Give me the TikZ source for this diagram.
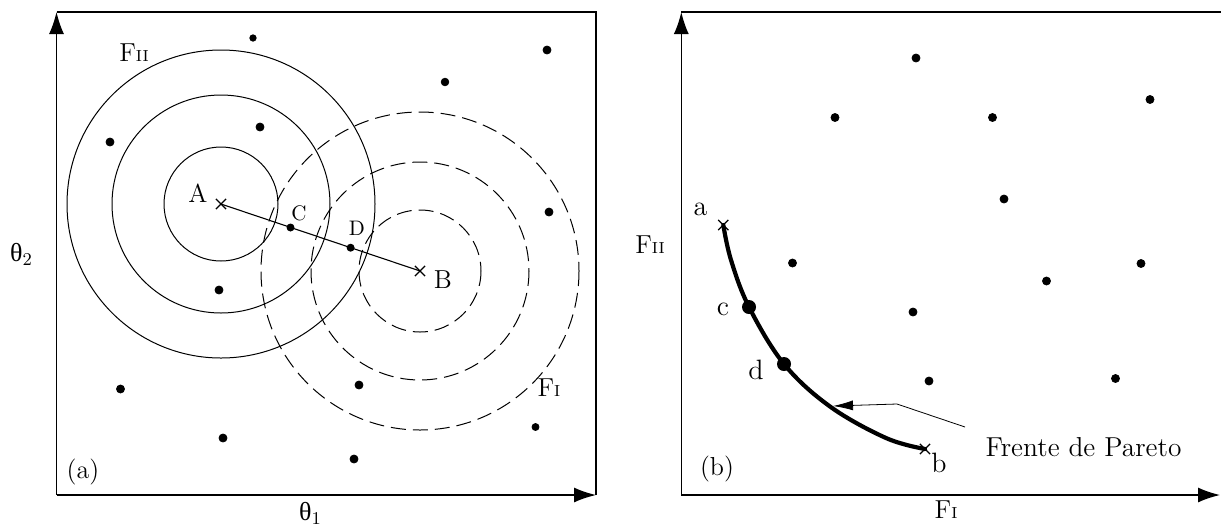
\documentclass[tikz,border=0pt]{standalone}
\usepackage{fontspec}
\newfontfamily\grk{Liberation Serif}
\usetikzlibrary{arrows.meta,shapes.misc}
\tikzset{
  eixo/.style={line width=0.65pt, -{Latex[length=11pt,width=7.5pt]}},
  moldura/.style={line width=0.65pt},
  nivel/.style={line width=0.5pt},
  niveltrac/.style={line width=0.5pt, dash pattern=on 7.5pt off 3.5pt},
  marca/.style={cross out, draw, line width=0.6pt, minimum size=4.5pt, inner sep=0pt},
  ponto/.style={circle, fill, inner sep=0pt, minimum size=4pt},
  pontog/.style={circle, fill, inner sep=0pt, minimum size=7pt},
  frente/.style={line width=2.1pt, line cap=round},
  seta/.style={line width=0.4pt, -{Latex[length=10pt,width=5pt]}},
  rot/.style={inner sep=0pt, font=\fontsize{13}{15}\selectfont},
  rotp/.style={inner sep=0pt, font=\fontsize{10.5}{12}\selectfont},
  rotm/.style={inner sep=0pt, font=\fontsize{14}{16}\selectfont},
}
\newcommand{\Fsub}[1]{F{\footnotesize #1}}
\newcommand{\tsub}[1]{{\grk θ}\raisebox{-0.35ex}{\small #1}}
\begin{document}
\begin{tikzpicture}[x=0.5pt, y=-0.5pt]
\useasboundingbox (0,0) rectangle (1221,526);

% (a) espaco dos parametros
\coordinate (oa) at (56.5,495);
\draw[moldura] (56.5,12) -- (596,12) -- (596,495);
\draw[eixo] (oa) -- (56.5,12);
\draw[eixo] (oa) -- (596,495);
\node[rot] (t1) at (310,513) {\tsub{1}};
\node[rot] (t2) at (21,254) {\tsub{2}};

\node[marca] (A) at (221,204) {};
\node[marca] (B) at (420,271) {};
\draw[nivel] (A.center) circle (57);
\draw[nivel] (A.center) circle (109);
\draw[nivel] (A.center) circle (154);
\draw[niveltrac] (B.center) circle (61);
\draw[niveltrac] (B.center) circle (109);
\draw[niveltrac] (B.center) circle (159);
\draw[line width=0.55pt] (A.center) -- (B.center);
\node[ponto] (C) at (290.5,227.5) {};
\node[ponto] (D) at (350.6,247.7) {};

\node[rot] (lA) at (198,193) {A};
\node[rot] (lB) at (443,280) {B};
\node[rotp] (lC) at (299,213) {C};
\node[rotp] (lD) at (357,228) {D};
\node[rot] (fII) at (134,53) {\Fsub{II}};
\node[rot] (fI) at (549,388) {\Fsub{I}};
\node[rot] (la) at (83,472) {(a)};

\filldraw (253,38) circle (3.2) (547,50) circle (4) (445,82) circle (3.8)
  (260,127) circle (4) (110,142) circle (4) (549,212) circle (4)
  (219,290) circle (4) (120.5,389) circle (4) (359,385) circle (4)
  (535.5,427) circle (3.5) (223,438) circle (4) (354,459) circle (4);

% (b) espaco dos objetivos
\coordinate (ob) at (681.3,495);
\draw[moldura] (681.3,12) -- (1221,12);
\draw[eixo] (ob) -- (681.3,12);
\draw[eixo] (ob) -- (1220,495);
\node[rot] (eI) at (946,510) {\Fsub{I}};
\node[rot] (eII) at (650,245) {\Fsub{II}};

\filldraw (916,58) circle (4) (835,117.5) circle (4) (992.5,117.5) circle (4)
  (1150,99.5) circle (4) (1004,199) circle (4) (792.5,263) circle (4)
  (1141,263.5) circle (4) (1046.5,281) circle (4) (913,312) circle (4)
  (929,381) circle (4) (1115.5,378.5) circle (4);

\node[marca] (pa) at (723.3,225) {};
\node[marca] (pb) at (925,449) {};
\draw[frente] plot[smooth, tension=0.6] coordinates {
  (723.3,225) (731,260) (749,307) (784,364) (830,406.5) (886,438) (925,449)};
\node[pontog] (pc) at (749,307) {};
\node[pontog] (pd) at (784,364) {};

\node[rotm] (ra) at (700.5,209) {a};
\node[rotm] (rc) at (723,309) {c};
\node[rotm] (rd) at (756,370) {d};
\node[rotm] (rb) at (939,463) {b};
\node[rot] (lb) at (717,469) {(b)};

\node[inner sep=0pt, font=\fontsize{13.7}{16}\selectfont] (fp) at (1083.5,447) {Frente de Pareto};
\coordinate (inicio) at (965,427);
\coordinate (dobra) at (897,404);
\coordinate (alvo) at (833,406);
\draw[seta] (inicio) -- (dobra) -- (alvo);
\end{tikzpicture}
\end{document}
